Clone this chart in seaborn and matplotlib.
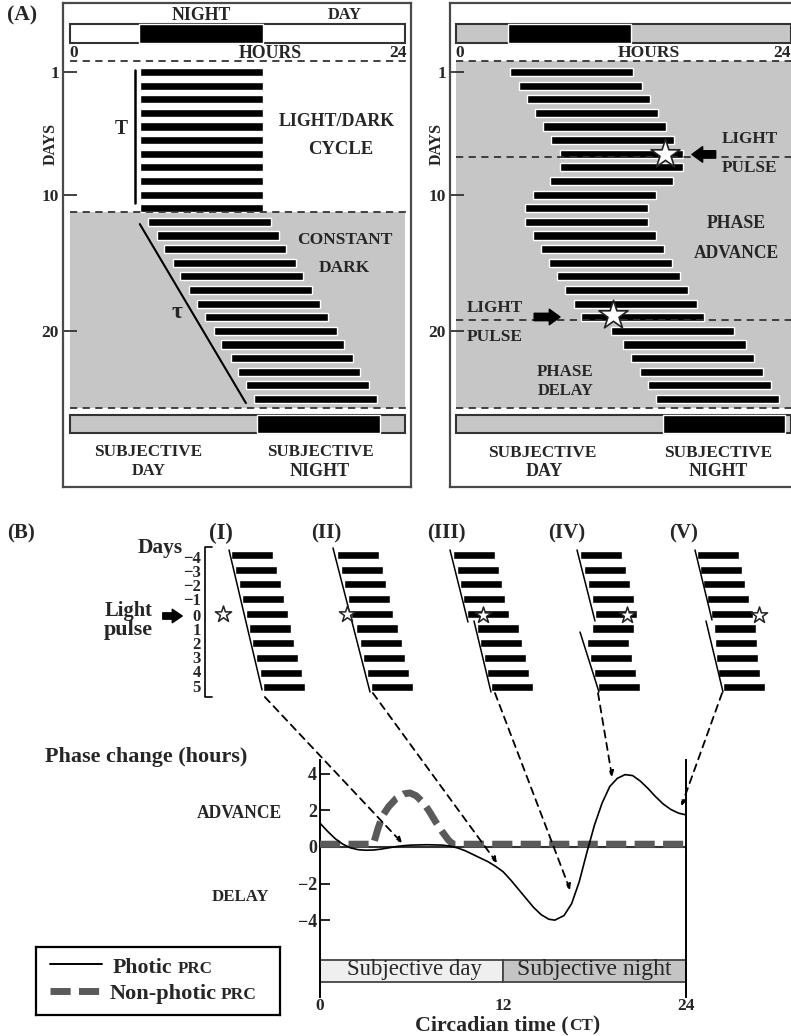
import matplotlib
matplotlib.use("Agg")
import matplotlib.pyplot as plt
import seaborn as sns
import pandas as pd
from matplotlib.patches import ConnectionPatch

# ====================== DATA ======================
# (A) left actogram: entrained (light/dark) then free-running (constant dark); onset hour per day
ld_days = list(range(1, 12))
ld_onsets = [5.0, 5.0, 5.0, 5.0, 5.0, 5.0, 5.0, 5.0, 5.0, 5.0, 5.0]
dd_days = list(range(12, 26))
dd_onsets = [5.6, 6.2, 6.7, 7.4, 7.9, 8.5, 9.1, 9.7, 10.3, 10.8, 11.5, 12.0, 12.6, 13.2]
activity_hours = 8.8
ld_night = [4.95, 13.85]
dd_subjective_night = [13.4, 22.2]
T_line_hour = 4.66
T_line_days = [0.85, 10.6]
tau_line_hours = [5.0, 12.6]
tau_line_days = [12.16, 25.3]
left_dashed_days = [0.19, 11.28, 25.66]

# (A) right actogram: free-running rhythm with two light pulses
pulse_days = list(range(1, 26))
pulse_onsets = [3.87, 4.51, 5.09, 5.66, 6.23, 6.81, 7.45, 7.45, 6.73, 5.52, 4.94, 4.94, 5.52,
                6.09, 6.66, 7.23, 7.81, 8.45, 8.95, 11.10, 11.96, 12.54, 13.18, 13.75, 14.33]
pulse_night = [3.72, 12.54]
pulse_subjective_night = [14.83, 23.57]
pulse_star_hours = [15.0, 11.25]
pulse_star_days = [7.0, 18.85]
right_dashed_days = [0.19, 7.22, 19.2, 25.66]

# (B) five small actograms, days -4..5, onset hour per day
b_days = [-4, -3, -2, -1, 0, 1, 2, 3, 4, 5]
b_bar_hours = 12.0
onsets_I = [7.4, 8.6, 9.7, 10.6, 11.7, 12.6, 13.4, 14.6, 15.7, 16.6]
onsets_II = [4.9, 6.0, 6.9, 8.0, 8.9, 10.3, 11.4, 12.3, 13.4, 14.6]
onsets_III = [3.7, 4.9, 5.7, 6.6, 7.7, 10.6, 11.4, 12.6, 13.4, 14.6]
onsets_IV = [4.3, 5.4, 6.6, 7.7, 8.6, 7.7, 6.3, 7.1, 8.3, 9.4]
onsets_V = [3.4, 4.3, 5.1, 6.3, 7.4, 8.3, 8.6, 8.9, 9.4, 10.9]
star_I, star_II, star_III, star_IV, star_V = (5.1, 0.0), (7.7, 0.0), (12.3, 0.1), (17.7, 0.1), (21.1, 0.1)
lines_I = [((6.86, -4.34), (16.29, 5.18))]
lines_II = [((3.71, -4.48), (14.29, 5.32))]
lines_III = [((2.86, -4.34), (8.0, 0.56)), ((9.71, 0.49), (14.57, 5.32))]
lines_IV = [((3.43, -4.34), (8.57, 0.49)), ((4.29, 1.24), (9.71, 5.32))]
lines_V = [((2.86, -4.34), (7.71, 0.42)), ((6.0, 0.49), (10.86, 5.32))]
link_from = [(17.1, 5.66), (15.1, 5.39), (15.7, 5.39), (9.43, 5.39), (10.6, 5.39)]   # actogram (h, day)
link_to = [(5.38, 0.22), (11.6, -0.87), (16.4, -2.35), (19.15, 3.83), (23.7, 2.24)]  # PRC (CT, h)
panel_labels = ["(I)", "(II)", "(III)", "(IV)", "(V)"]
day_labels = ["\u22124", "\u22123", "\u22122", "\u22121", "0", "1", "2", "3", "4", "5"]

# (B) phase response curves
photic_ct = [0, 0.5, 1, 1.5, 2, 2.5, 3, 3.5, 4, 4.5, 5, 5.5, 6, 7, 8, 8.5, 9, 9.5, 10, 10.5, 11,
             11.5, 12, 12.5, 13, 13.5, 14, 14.5, 15, 15.4, 16, 16.5, 17, 17.5, 18, 18.5, 19, 19.5,
             20, 20.5, 21, 21.5, 22, 22.5, 23, 23.5, 24]
photic_shift = [1.3, 0.85, 0.45, 0.15, -0.05, -0.15, -0.18, -0.17, -0.12, -0.05, 0.02, 0.07, 0.1,
                0.12, 0.1, 0.05, -0.05, -0.2, -0.4, -0.6, -0.8, -1.05, -1.35, -1.8, -2.3, -2.8,
                -3.3, -3.7, -3.95, -4.0, -3.75, -3.1, -1.9, -0.3, 1.2, 2.4, 3.3, 3.75, 3.95, 3.9,
                3.6, 3.2, 2.75, 2.35, 2.05, 1.85, 1.75]
nonphotic_ct = [0, 3.5, 3.8, 4.1, 4.5, 5.0, 5.5, 5.9, 6.3, 6.8, 7.2, 7.6, 8.0, 8.4, 8.7, 24]
nonphotic_shift = [0.15, 0.15, 1.0, 1.7, 2.2, 2.65, 2.9, 2.95, 2.8, 2.4, 1.9, 1.35, 0.85, 0.4, 0.15, 0.15]
prc_yticks = [4, 2, 0, -2, -4]
prc_xticks = [0, 12, 24]
subjective_split = [0, 12, 24]

# ====================== STYLE ======================
sns.set_theme(style="white")
plt.rcParams["font.family"] = ["Liberation Serif", "DejaVu Serif"]
plt.rcParams["axes.unicode_minus"] = True

W, H = 791, 1036
fig = plt.figure(figsize=(W / 100, H / 100), dpi=100)
fig.patch.set_facecolor("white")
R = fig.canvas.get_renderer()
GREY = "#c6c6c6"
DASH = (0, (4, 3))


def px_axes(x0, y0, x1, y1):
    ax = fig.add_axes([x0 / W, 1 - y1 / H, (x1 - x0) / W, (y1 - y0) / H])
    ax.set_facecolor("none")
    return ax


def fit(s, x0, x1, yc, weight="bold", rotation=0, cx=None):
    cxp = (x0 + x1) / 2 if cx is None else cx
    t = fig.text(cxp / W, 1 - yc / H, s, ha="center", va="center", fontsize=10,
                 fontweight=weight, rotation=rotation, zorder=7)
    bb = t.get_window_extent(R)
    ext = bb.height if rotation else bb.width
    t.set_fontsize(10 * (x1 - x0) / ext)
    return t


def rich_fit(pieces, x0, x1, ybase, weight="bold", gap=0.0):
    texts, widths = [], []
    for s, rel in pieces:
        t = fig.text(0, 1 - ybase / H, s, ha="left", va="baseline", fontsize=10 * rel,
                     fontweight=weight)
        texts.append((t, rel))
        widths.append(t.get_window_extent(R).width)
    k = (x1 - x0 - gap * (len(pieces) - 1)) / sum(widths)
    x = x0
    for (t, rel), w in zip(texts, widths):
        t.set_fontsize(10 * rel * k)
        t.set_x(x / W)
        x += w * k + gap


def ptext(s, x, y, size, ha="center", va="center", weight="bold"):
    fig.text(x / W, 1 - y / H, s, ha=ha, va=va, fontsize=size, fontweight=weight)


# ====================== PANEL A ======================
HPX, DPX, DAY1 = 13.96, 13.625, 72


def panelA(bx0, bx1, h0):
    ax = px_axes(bx0, 3, bx1, 487)
    ax.set_xlim((bx0 - h0) / HPX, (bx1 - h0) / HPX)
    ax.set_ylim(1 + (487 - DAY1) / DPX, 1 - (DAY1 - 3) / DPX)
    for sp in ax.spines.values():
        sp.set_color("#4a4a4a")
        sp.set_linewidth(1.6)
    ax.set_xticks([])
    ax.set_yticks([1, 10, 20])
    ax.tick_params(axis="y", direction="in", length=10, width=1.3, color="#333333",
                   labelsize=12.5, pad=3, left=True)
    for lab in ax.get_yticklabels():
        lab.set_fontweight("bold")
    return ax


bar_y, bar_h = -1.83, 1.39
sub_y, sub_h = 26.84, 1.33
ACT_H = 0.6

# ---- left ----
axL = panelA(63, 411, 70)
axL.fill_between([0, 24], left_dashed_days[1], left_dashed_days[2], color=GREY, lw=0, zorder=0)
axL.barh(ld_days, activity_hours, left=ld_onsets, height=ACT_H, color="black", zorder=2)
axL.barh(dd_days, activity_hours, left=dd_onsets, height=ACT_H, color="black", zorder=2)
axL.barh(bar_y, 24, left=0, height=bar_h, color="white", edgecolor="#333333", lw=1.5)
axL.barh(bar_y, ld_night[1] - ld_night[0], left=ld_night[0], height=bar_h, color="black")
axL.barh(sub_y, 24, left=0, height=sub_h, color=GREY, edgecolor="#333333", lw=1.5)
axL.barh(sub_y, dd_subjective_night[1] - dd_subjective_night[0], left=dd_subjective_night[0],
         height=sub_h, color="black")
axL.hlines(left_dashed_days, 0, 24.2, colors="#333333", linestyles=DASH, lw=1.3)
axL.plot([T_line_hour, T_line_hour], T_line_days, color="black", lw=1.8)
axL.plot(tau_line_hours, tau_line_days, color="black", lw=1.5)

# ---- right ----
axR = panelA(450, 797, 456)
axR.fill_between([0, 25], right_dashed_days[0], right_dashed_days[-1], color=GREY, lw=0, zorder=0)
axR.barh(pulse_days, activity_hours, left=pulse_onsets, height=ACT_H, color="black", zorder=2)
axR.barh(bar_y, 24, left=0, height=bar_h, color=GREY, edgecolor="#333333", lw=1.5)
axR.barh(bar_y, pulse_night[1] - pulse_night[0], left=pulse_night[0], height=bar_h, color="black")
axR.barh(sub_y, 24, left=0, height=sub_h, color=GREY, edgecolor="#333333", lw=1.5)
axR.barh(sub_y, pulse_subjective_night[1] - pulse_subjective_night[0],
         left=pulse_subjective_night[0], height=sub_h, color="black")
axR.hlines(right_dashed_days, 0, 24.5, colors="#333333", linestyles=DASH, lw=1.3)
axR.scatter(pulse_star_hours, pulse_star_days, marker="*", s=480, facecolor="white",
            edgecolor="#222222", linewidth=1.2, zorder=5)
arrow_big = dict(arrowstyle="simple,head_length=0.55,head_width=0.8,tail_width=0.38",
                 fc="black", ec="black", mutation_scale=14, shrinkA=0, shrinkB=0)
axR.annotate("", xy=(16.9, pulse_star_days[0] + 0.05), xytext=(18.6, pulse_star_days[0] + 0.05),
             arrowprops=arrow_big)
axR.annotate("", xy=(7.45, 18.98), xytext=(5.6, 18.98), arrowprops=arrow_big)

# ---- panel A texts ----
fit("(A)", 7, 37, 15)
fit("NIGHT", 172, 231, 15)
fit("DAY", 328, 362, 15)
ptext("0", 74, 53, 12.5)
fit("HOURS", 239, 302, 53)
ptext("24", 398, 53, 12.5)
fit("DAYS", 0, 42, 144, rotation=90, cx=51)
fit("T", 115, 128, 129, weight="bold")
fit("LIGHT/DARK", 279, 395, 121)
fit("CYCLE", 308, 373, 150)
fit("CONSTANT", 297, 392, 240)
fit("DARK", 319, 370, 268)
ptext("\u03c4", 177, 312, 17, weight="bold")
fit("SUBJECTIVE", 95, 202, 452)
fit("DAY", 132, 166, 471)
fit("SUBJECTIVE", 267, 373, 452)
fit("NIGHT", 290, 350, 471)

ptext("0", 460, 53, 12.5)
fit("HOURS", 618, 680, 53)
ptext("24", 773, 53, 12.5, ha="left")
fit("DAYS", 0, 42, 144, rotation=90, cx=437)
fit("LIGHT", 722, 778, 139)
fit("PULSE", 722, 777, 168)
fit("PHASE", 707, 766, 224)
fit("ADVANCE", 694, 779, 253)
fit("LIGHT", 467, 523, 308)
fit("PULSE", 467, 523, 337)
fit("PHASE", 537, 593, 372)
fit("DELAY", 538, 594, 391)
fit("SUBJECTIVE", 488, 596, 453)
fit("DAY", 526, 563, 472)
fit("SUBJECTIVE", 665, 772, 453)
fit("NIGHT", 689, 748, 472)

# ====================== PANEL B actograms ======================
BDPX = 14.7


def b_actogram(x0, onsets, star, lines):
    ax = px_axes(x0, 545, x0 + 105, 700)
    ax.set_xlim(0, 30)
    ax.set_ylim(-4 + (700 - 555) / BDPX, -4 - (555 - 545) / BDPX)
    ax.axis("off")
    ax.barh(b_days, b_bar_hours, left=onsets, height=0.55, color="black")
    for (xa, ya), (xb, yb) in lines:
        ax.plot([xa, xb], [ya, yb], color="black", lw=1.1)
    ax.scatter([star[0]], [star[1]], marker="*", s=150, facecolor="white", edgecolor="#222222",
               linewidth=1.1, zorder=5)
    return ax


b_x0 = [205, 320, 440, 565, 685]
b_axes = [b_actogram(x, o, s, l) for x, o, s, l in zip(
    b_x0, [onsets_I, onsets_II, onsets_III, onsets_IV, onsets_V],
    [star_I, star_II, star_III, star_IV, star_V],
    [lines_I, lines_II, lines_III, lines_IV, lines_V])]

# bracket of the day axis
axI = b_axes[0]
top_d, bot_d = b_days[0] - 0.54, b_days[-1] + 0.66
axI.plot([2.0, 0.0, 0.0, 2.0], [top_d, top_d, bot_d, bot_d], color="black", lw=1.2, clip_on=False)
for lab, ypx in zip(day_labels, [559, 573, 587, 601, 617, 631, 645, 659, 673, 688]):
    ptext(lab, 201, ypx, 12, ha="right")

fit("(B)", 7, 35, 533)
for lab, (a, b) in zip(panel_labels, [(209, 233), (311, 341), (427, 465), (548, 585), (669, 698)]):
    fit(lab, a, b, 533)
fit("Days", 138, 183, 548)
fit("Light", 105, 153, 611)
fit("pulse", 104, 153, 630)
fig.add_artist(matplotlib.patches.FancyArrowPatch(
    (160 / W, 1 - 616 / H), (185 / W, 1 - 616 / H), transform=fig.transFigure,
    arrowstyle="simple,head_length=0.55,head_width=0.75,tail_width=0.35",
    mutation_scale=13, fc="black", ec="black"))

# ====================== PRC ======================
axP = px_axes(320, 760, 686, 997)
axP.set_xlim(0, 24)
axP.set_ylim(-8.2, 4.75)
for side in ["top", "bottom"]:
    axP.spines[side].set_visible(False)
for side in ["left", "right"]:
    axP.spines[side].set_color("black")
    axP.spines[side].set_linewidth(1.4)
axP.axhline(0, color="#333333", lw=1.5, zorder=1)
axP.barh(-6.78, subjective_split[1] - subjective_split[0], left=subjective_split[0], height=1.2,
         color="#efefef", edgecolor="#444444", lw=1.3)
axP.barh(-6.78, subjective_split[2] - subjective_split[1], left=subjective_split[1], height=1.2,
         color="#c4c4c4", edgecolor="#444444", lw=1.3)
df_ph = pd.DataFrame({"ct": photic_ct, "shift": photic_shift})
df_np = pd.DataFrame({"ct": nonphotic_ct, "shift": nonphotic_shift})
sns.lineplot(data=df_np, x="ct", y="shift", ax=axP, color="#5a5a5a", lw=5,
             linestyle=(0, (2.9, 1.2)), legend=False, zorder=3)
sns.lineplot(data=df_ph, x="ct", y="shift", ax=axP, color="black", lw=1.2, legend=False, zorder=4)
for ln in axP.lines:
    ln.set_dash_capstyle("butt")
    ln.set_solid_capstyle("butt")
axP.set_xlabel("")
axP.set_ylabel("")
axP.set_yticks(prc_yticks)
axP.set_yticklabels(["4", "2", "0", "\u22122", "\u22124"])
axP.set_xticks(prc_xticks)
axP.tick_params(axis="y", direction="in", length=7, width=1.2, color="black", labelsize=13,
                pad=2, left=True)
axP.tick_params(axis="x", length=0, labelsize=12.5, pad=1)
for lab in axP.get_yticklabels() + axP.get_xticklabels():
    lab.set_fontweight("bold")
fit("Subjective day", 347, 482, 970, weight="normal")
fit("Subjective night", 517, 671, 970, weight="normal")

# connectors from actograms to the PRC
for axB, pa, pb in zip(b_axes, link_from, link_to):
    con = ConnectionPatch(xyA=pa, coordsA="data", axesA=axB, xyB=pb, coordsB="data", axesB=axP,
                          arrowstyle="-|>", mutation_scale=8, lw=1.3, linestyle=DASH,
                          color="black", zorder=6)
    fig.add_artist(con)

fit("Phase change (hours)", 45, 247, 757)
fit("ADVANCE", 197, 282, 813)
fit("DELAY", 212, 269, 897)
rich_fit([("Circadian time (", 1.0), ("CT", 0.78), (")", 1.0)], 415, 600, 1030)

# legend box
axLeg = px_axes(36, 947, 280, 1015)
axLeg.set_xlim(0, 1)
axLeg.set_ylim(0, 1)
axLeg.set_xticks([])
axLeg.set_yticks([])
for sp in axLeg.spines.values():
    sp.set_color("black")
    sp.set_linewidth(1.6)
axLeg.plot([0.057, 0.27], [0.75, 0.75], color="black", lw=1.4)
lnp, = axLeg.plot([0.057, 0.262], [0.35, 0.35], color="#5a5a5a", lw=5, linestyle=(0, (2.9, 1.2)))
lnp.set_dash_capstyle("butt")
rich_fit([("Photic", 1.0), ("PRC", 0.78)], 113, 213, 973, gap=6)
rich_fit([("Non-photic", 1.0), ("PRC", 0.78)], 110, 257, 999, gap=4)

fig.savefig("out.png", dpi=100, facecolor="white")
